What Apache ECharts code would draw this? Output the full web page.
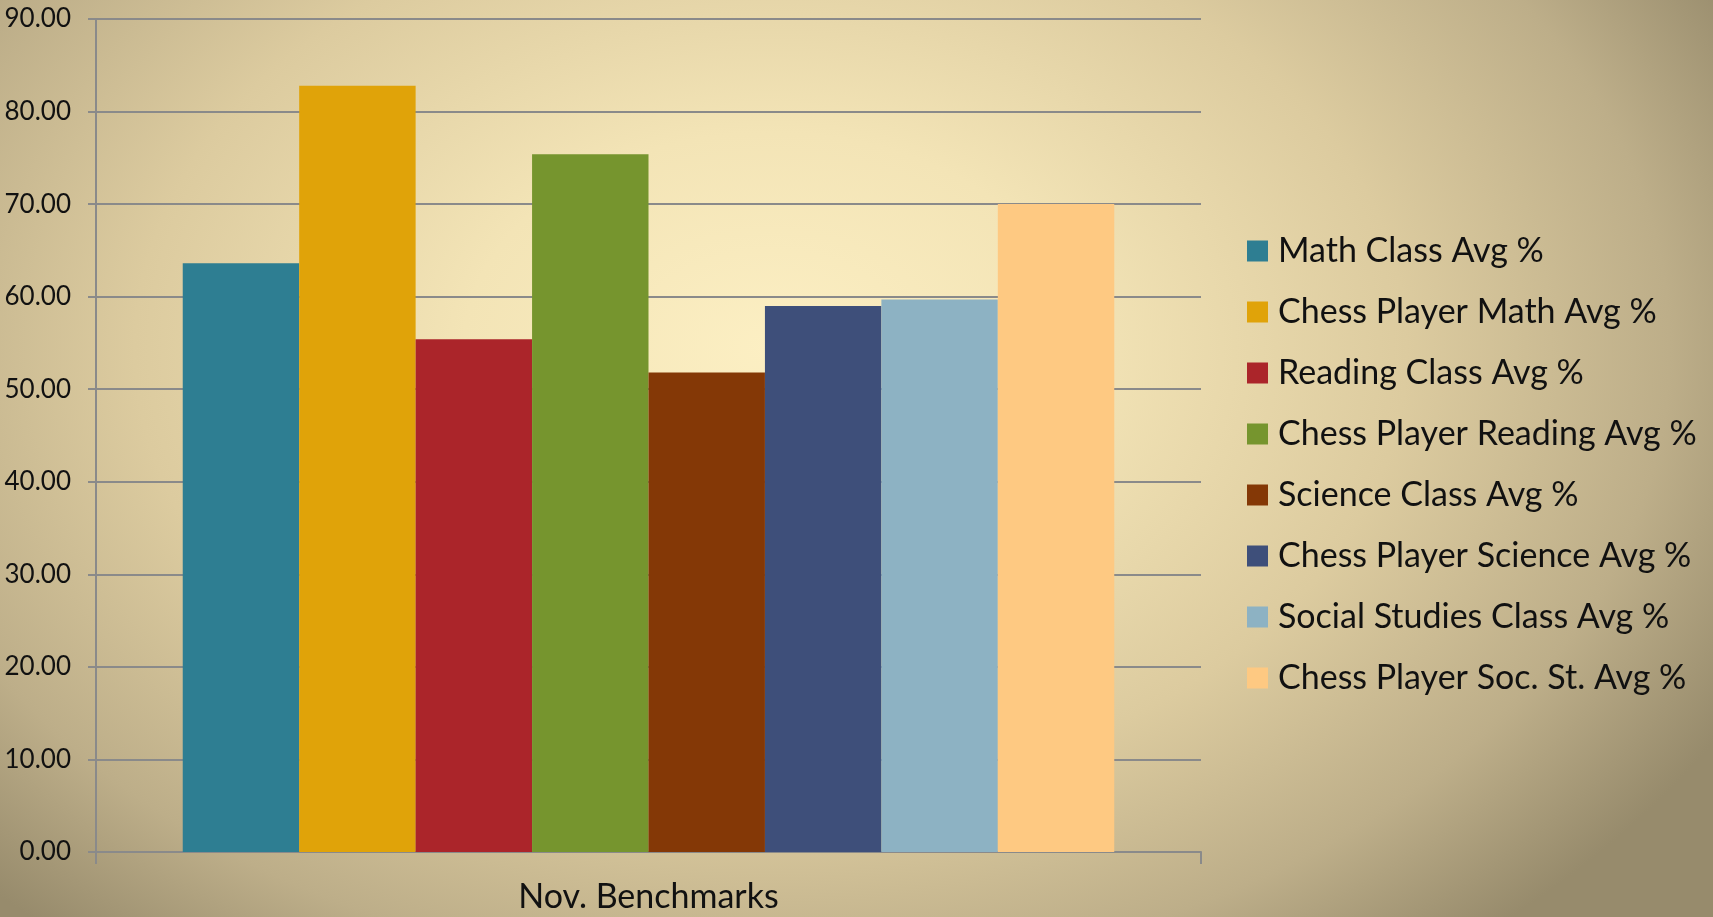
<!DOCTYPE html>
<html>
<head>
<meta charset="utf-8">
<script src="https://cdn.jsdelivr.net/npm/echarts@6/dist/echarts.min.js"></script>
<style>
  html, body { margin: 0; padding: 0; }
  #chart {
    width: 1713px; height: 917px;
    background: radial-gradient(ellipse 64% 84% at 45% 38%, #fcefc3 0%, #f3e4b6 28%, #dccb9f 58%, #bdae89 82%, #978b6c 100%);
  }
</style>
</head>
<body>
<div id="chart"></div>
<script>
// Benchmark averages, one bar per series, single category
const categories = ['Nov. Benchmarks'];
const seriesNames = [
  'Math Class Avg %',
  'Chess Player Math Avg %',
  'Reading Class Avg %',
  'Chess Player Reading Avg %',
  'Science Class Avg %',
  'Chess Player Science Avg %',
  'Social Studies Class Avg %',
  'Chess Player Soc. St. Avg %'
];
const seriesValues = [63.6, 82.8, 55.4, 75.4, 51.8, 59.0, 59.7, 70.0];
const seriesColors = ['#2e7e92', '#e0a309', '#ab252a', '#76952e', '#843806', '#3e4f7a', '#8db2c3', '#fec982'];
const yTicks = { min: 0, max: 90, interval: 10 };

const FONT = 'Lato, "Open Sans", sans-serif';
const AXIS_GRAY = '#8a8a8a';
const LEGEND_LINE = 34;

const chart = echarts.init(document.getElementById('chart'), null, { renderer: 'canvas' });

const series = seriesNames.map((name, i) => ({
  name,
  type: 'bar',
  data: [seriesValues[i]],
  itemStyle: { color: seriesColors[i] },
  barGap: '0%',
  barCategoryGap: '15.7%',
  emphasis: { disabled: true }
}));

chart.setOption({
  backgroundColor: 'transparent',
  animation: false,
  grid: { left: 96, right: 512, top: 19, bottom: 65, containLabel: false },
  legend: {
    orient: 'vertical',
    left: 1247,
    top: 251 - LEGEND_LINE / 2,
    padding: 0,
    icon: 'rect',
    itemWidth: 21,
    itemHeight: 21,
    itemGap: 61 - LEGEND_LINE,
    textStyle: { fontFamily: FONT, fontSize: 34, color: '#111', lineHeight: LEGEND_LINE, padding: [0, 0, 0, 5] },
    data: seriesNames
  },
  xAxis: {
    type: 'category',
    data: categories,
    boundaryGap: true,
    axisLine: { lineStyle: { color: AXIS_GRAY, width: 2 } },
    axisTick: { show: true, length: 12, lineStyle: { color: AXIS_GRAY, width: 2 } },
    axisLabel: { fontFamily: FONT, fontSize: 34, color: '#111', margin: 28 }
  },
  yAxis: {
    type: 'value',
    min: yTicks.min,
    max: yTicks.max,
    interval: yTicks.interval,
    axisLine: { show: true, lineStyle: { color: AXIS_GRAY, width: 2 } },
    axisTick: { show: true, length: 8, lineStyle: { color: AXIS_GRAY, width: 2 } },
    splitLine: { show: true, lineStyle: { color: AXIS_GRAY, width: 2 } },
    axisLabel: {
      fontFamily: FONT, fontSize: 26, color: '#111', margin: 25,
      formatter: v => v.toFixed(2)
    }
  },
  series
});
</script>
</body>
</html>
